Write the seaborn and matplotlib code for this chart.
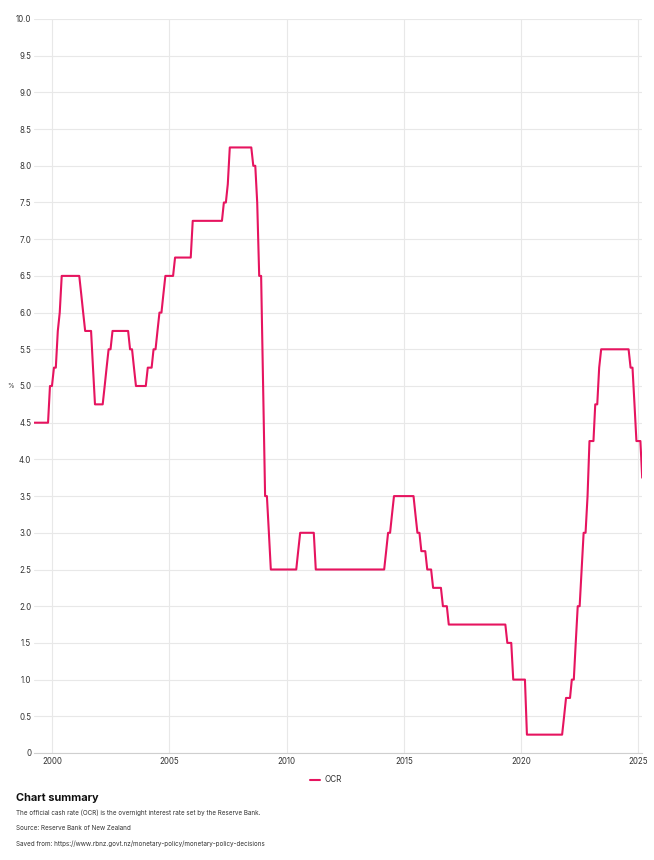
import pandas as pd
import matplotlib
matplotlib.use("Agg")
import matplotlib.pyplot as plt
import matplotlib.dates as mdates
from matplotlib.ticker import FuncFormatter
import seaborn as sns

# Official cash rate, month-end values (only the months where the line bends)
dates = [
    "1999-03-31", "1999-10-31", "1999-11-30", "1999-12-31", "2000-01-31", "2000-02-29",
    "2000-03-31", "2000-04-30", "2000-05-31", "2001-02-28", "2001-03-31", "2001-04-30",
    "2001-05-31", "2001-08-31", "2001-09-30", "2001-10-31", "2002-02-28", "2002-03-31",
    "2002-04-30", "2002-05-31", "2002-06-30", "2002-07-31", "2003-03-31", "2003-04-30",
    "2003-05-31", "2003-06-30", "2003-07-31", "2003-12-31", "2004-01-31", "2004-03-31",
    "2004-04-30", "2004-05-31", "2004-06-30", "2004-07-31", "2004-08-31", "2004-09-30",
    "2004-10-31", "2005-02-28", "2005-03-31", "2005-11-30", "2005-12-31", "2007-03-31",
    "2007-04-30", "2007-05-31", "2007-06-30", "2007-07-31", "2008-06-30", "2008-07-31",
    "2008-08-31", "2008-09-30", "2008-10-31", "2008-11-30", "2008-12-31", "2009-01-31",
    "2009-02-28", "2009-03-31", "2009-04-30", "2010-05-31", "2010-06-30", "2010-07-31",
    "2011-02-28", "2011-03-31", "2014-02-28", "2014-03-31", "2014-04-30", "2014-05-31",
    "2014-06-30", "2014-07-31", "2015-05-31", "2015-06-30", "2015-07-31", "2015-08-31",
    "2015-09-30", "2015-11-30", "2015-12-31", "2016-02-29", "2016-03-31", "2016-07-31",
    "2016-08-31", "2016-10-31", "2016-11-30", "2019-04-30", "2019-05-31", "2019-07-31",
    "2019-08-31", "2020-02-29", "2020-03-31", "2021-09-30", "2021-10-31", "2021-11-30",
    "2022-01-31", "2022-02-28", "2022-03-31", "2022-04-30", "2022-05-31", "2022-06-30",
    "2022-07-31", "2022-08-31", "2022-09-30", "2022-10-31", "2022-11-30", "2023-01-31",
    "2023-02-28", "2023-03-31", "2023-04-30", "2023-05-31", "2024-07-31", "2024-08-31",
    "2024-09-30", "2024-10-31", "2024-11-30", "2025-01-31", "2025-02-28",
]
ocr = [
    4.50, 4.50, 5.00, 5.00, 5.25, 5.25,
    5.75, 6.00, 6.50, 6.50, 6.25, 6.00,
    5.75, 5.75, 5.25, 4.75, 4.75, 5.00,
    5.25, 5.50, 5.50, 5.75, 5.75, 5.50,
    5.50, 5.25, 5.00, 5.00, 5.25, 5.25,
    5.50, 5.50, 5.75, 6.00, 6.00, 6.25,
    6.50, 6.50, 6.75, 6.75, 7.25, 7.25,
    7.50, 7.50, 7.75, 8.25, 8.25, 8.00,
    8.00, 7.50, 6.50, 6.50, 5.00, 3.50,
    3.50, 3.00, 2.50, 2.50, 2.75, 3.00,
    3.00, 2.50, 2.50, 2.75, 3.00, 3.00,
    3.25, 3.50, 3.50, 3.25, 3.00, 3.00,
    2.75, 2.75, 2.50, 2.50, 2.25, 2.25,
    2.00, 2.00, 1.75, 1.75, 1.50, 1.50,
    1.00, 1.00, 0.25, 0.25, 0.50, 0.75,
    0.75, 1.00, 1.00, 1.50, 2.00, 2.00,
    2.50, 3.00, 3.00, 3.50, 4.25, 4.25,
    4.75, 4.75, 5.25, 5.50, 5.50, 5.25,
    5.25, 4.75, 4.25, 4.25, 3.75,
]
year_ticks = list(range(2000, 2026, 5))
y_ticks = [0, 0.5, 1, 1.5, 2, 2.5, 3, 3.5, 4, 4.5, 5, 5.5, 6, 6.5, 7, 7.5, 8, 8.5, 9, 9.5, 10]

summary_title = "Chart summary"
summary_lines = [
    "The official cash rate (OCR) is the overnight interest rate set by the Reserve Bank.",
    "Source: Reserve Bank of New Zealand",
    "Saved from: https://www.rbnz.govt.nz/monetary-policy/monetary-policy-decisions",
]

LINE_COLOR = "#E6145F"
TEXT_COLOR = "#333333"

df = pd.DataFrame({"date": pd.to_datetime(dates), "OCR": ocr})

sns.set_style("white")
plt.rcParams["font.family"] = ["Inter", "DejaVu Sans"]

W, H = 654, 860
fig = plt.figure(figsize=(W / 100, H / 100), dpi=100)
ax = fig.add_axes([34.3 / W, 1 - 753 / H, (642.2 - 34.3) / W, (753 - 19) / H])

sns.lineplot(data=df, x="date", y="OCR", ax=ax, color=LINE_COLOR, linewidth=1.5,
             label="OCR", legend=False)

ax.set_xlim(df["date"].min(), df["date"].max())
ax.set_ylim(0, 10)
ax.set_yticks(y_ticks)
ax.yaxis.set_major_formatter(FuncFormatter(lambda v, p: "0" if v == 0 else f"{v:.1f}"))
ax.set_xticks([pd.Timestamp(f"{y}-01-01") for y in year_ticks])
ax.xaxis.set_major_formatter(mdates.DateFormatter("%Y"))

ax.grid(True, color="#e8e8e8", linewidth=0.8)
ax.set_axisbelow(True)
for side in ["top", "right", "left"]:
    ax.spines[side].set_visible(False)
ax.spines["bottom"].set_color("#cfcfcf")
ax.spines["bottom"].set_linewidth(0.8)
ax.tick_params(axis="both", length=0, labelsize=5.7, colors=TEXT_COLOR)
ax.tick_params(axis="y", pad=2.2)
ax.tick_params(axis="x", pad=2.8)
ax.set_xlabel("")
ax.set_ylabel("")
fig.text(7 / W, 1 - 386 / H, "%", fontsize=4.8, color=TEXT_COLOR, va="center")

handles, labels = ax.get_legend_handles_labels()
fig.legend(handles, labels, loc="center", bbox_to_anchor=(326 / W, 1 - 780 / H),
           frameon=False, fontsize=5.8, handlelength=1.2, handletextpad=0.5,
           labelcolor=TEXT_COLOR)

fig.text(16 / W, 1 - 798 / H, summary_title, fontsize=7.9, fontweight="bold",
         color="#111111", va="center")
for i, line in enumerate(summary_lines):
    fig.text(16 / W, 1 - (812.5 + 15.5 * i) / H, line, fontsize=4.55, color=TEXT_COLOR,
             va="center")

fig.savefig("out.png", dpi=100)
